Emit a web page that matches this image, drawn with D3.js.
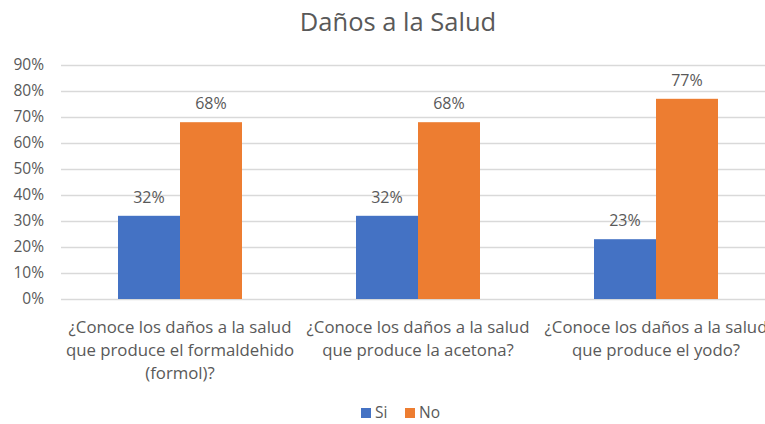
<!DOCTYPE html>
<html>
<head>
<meta charset="utf-8">
<script src="https://cdn.jsdelivr.net/npm/d3@7"></script>
<style>
  body { margin: 0; background: #fff; overflow: hidden; }
  text { font-family: "Open Sans", sans-serif; fill: #595959; }
</style>
</head>
<body>
<div id="chart"></div>
<script>
// chart data
var categories = [
  ["¿Conoce los daños a la salud", "que produce el formaldehido", "(formol)?"],
  ["¿Conoce los daños a la salud", "que produce la acetona?"],
  ["¿Conoce los daños a la salud", "que produce el yodo?"]
];
var seriesNames = ["Si", "No"];
var siValues = [0.32, 0.32, 0.23];
var noValues = [0.68, 0.68, 0.77];
var yTicks = [0, 0.1, 0.2, 0.3, 0.4, 0.5, 0.6, 0.7, 0.8, 0.9];

var colors = {"Si": "#4472C4", "No": "#ED7D31"};

var width = 765, height = 424;

var svg = d3.select("#chart")
  .append("svg")
    .attr("width", width)
    .attr("height", height);

// plot area runs past the right edge, like the original crop
var x0 = d3.scaleBand()
  .domain(d3.range(categories.length))
  .range([61, 775])
  .paddingInner(0.479)
  .paddingOuter(0.2395);

var x1 = d3.scaleBand()
  .domain(seriesNames)
  .range([0, x0.bandwidth()]);

var y = d3.scaleLinear()
  .domain([0, 0.9])
  .range([299, 65]);

// title
svg.append("text")
  .attr("x", 398)
  .attr("y", 31)
  .attr("text-anchor", "middle")
  .style("font-size", "25.5px")
  .text("Daños a la Salud");

// gridlines
svg.selectAll(".grid")
    .data(yTicks)
  .enter()
    .append("line")
    .attr("x1", 61)
    .attr("x2", width)
    .attr("y1", function(d) { return Math.round(y(d)) + 0.5; })
    .attr("y2", function(d) { return Math.round(y(d)) + 0.5; })
    .attr("stroke", "#d9d9d9")
    .attr("stroke-width", 1.3);

// y axis labels
var yAxis = d3.axisLeft(y)
  .tickValues(yTicks)
  .tickFormat(d3.format(".0%"))
  .tickSize(0)
  .tickPadding(0);

var yg = svg.append("g")
  .attr("transform", "translate(44,0)")
  .call(yAxis);
yg.select(".domain").remove();
yg.selectAll("text")
  .style("font-size", "15.5px")
  .attr("fill", "#595959")
  .attr("font-family", null);

// bars
var rows = categories.map(function(c, i) {
  return {idx: i, values: [
    {name: "Si", value: siValues[i]},
    {name: "No", value: noValues[i]}
  ]};
});

var groups = svg.selectAll(".group")
    .data(rows)
  .enter()
    .append("g")
    .attr("transform", function(d) { return "translate(" + x0(d.idx) + ",0)"; });

groups.selectAll("rect")
    .data(function(d) { return d.values; })
  .enter()
    .append("rect")
    .attr("x", function(d) { return x1(d.name); })
    .attr("y", function(d) { return y(d.value); })
    .attr("width", x1.bandwidth())
    .attr("height", function(d) { return y(0) - y(d.value); })
    .attr("fill", function(d) { return colors[d.name]; });

groups.selectAll(".val")
    .data(function(d) { return d.values; })
  .enter()
    .append("text")
    .attr("x", function(d) { return x1(d.name) + x1.bandwidth() / 2; })
    .attr("y", function(d) { return y(d.value) - 13; })
    .attr("text-anchor", "middle")
    .style("font-size", "16px")
    .text(function(d) { return d3.format(".0%")(d.value); });

// category labels
groups.each(function(d) {
  var t = d3.select(this).append("text")
    .attr("text-anchor", "middle")
    .style("font-size", "16.8px");
  categories[d.idx].forEach(function(line, k) {
    t.append("tspan")
      .attr("x", x0.bandwidth() / 2)
      .attr("y", 333 + k * 23)
      .text(line);
  });
});

// legend
var legend = svg.append("g").attr("transform", "translate(361,408)");
var items = legend.selectAll(".item")
    .data(seriesNames)
  .enter()
    .append("g")
    .attr("transform", function(d, i) { return "translate(" + (i * 44) + ",0)"; });
items.append("rect")
  .attr("width", 10)
  .attr("height", 10)
  .attr("fill", function(d) { return colors[d]; });
items.append("text")
  .attr("x", 14)
  .attr("y", 10)
  .style("font-size", "15.5px")
  .text(function(d) { return d; });
</script>
</body>
</html>
